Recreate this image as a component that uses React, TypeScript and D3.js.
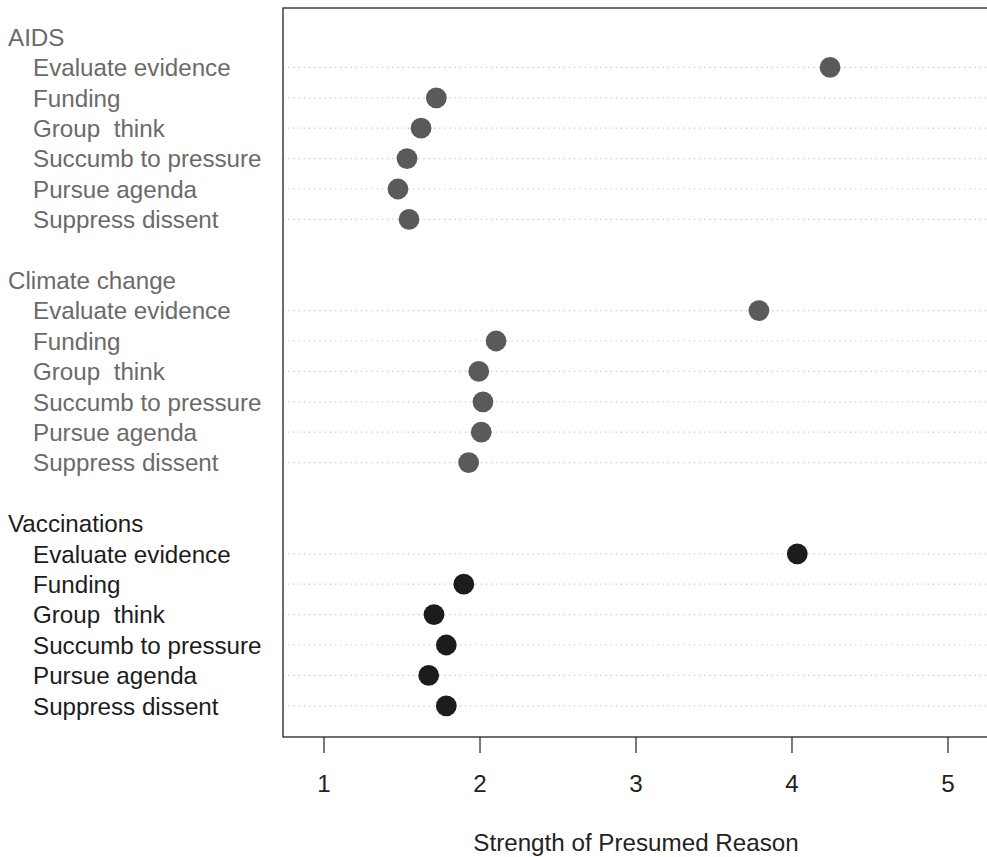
import React from "react";
import * as d3 from "d3";

const groups = ["AIDS", "Climate change", "Vaccinations"];
const reasons = ["Evaluate evidence", "Funding", "Group  think", "Succumb to pressure", "Pursue agenda", "Suppress dissent"];
const aidsValues = [4.244, 1.72, 1.622, 1.532, 1.474, 1.545];
const climateValues = [3.788, 2.103, 1.992, 2.019, 2.008, 1.927];
const vaccinationValues = [4.034, 1.896, 1.705, 1.784, 1.671, 1.784];
const xTicks = [1, 2, 3, 4, 5];
const groupColors = ["#5a5a5a", "#5a5a5a", "#1c1c1c"];
const labelColors = ["#6a6a6a", "#6a6a6a", "#1c1c1c"];

export default function App() {
  const W = 987, H = 857;
  const x = d3.scaleLinear().domain([0.737, 5.263]).range([283, 989]);
  const y = d3.scaleLinear().domain([0, 22]).range([37, 705.8]);
  const allValues = [aidsValues, climateValues, vaccinationValues];
  const font = "'Liberation Sans', Arial, Helvetica, sans-serif";
  const boxTop = 8, boxBottom = 737;
  const fs = 24.2;

  const rows: { label: string; header: boolean; g: number; idx: number; v?: number }[] = [];
  groups.forEach((g, gi) => {
    const base = gi * 8;
    rows.push({ label: g, header: true, g: gi, idx: base });
    reasons.forEach((r, ri) => {
      rows.push({ label: r, header: false, g: gi, idx: base + 1 + ri, v: allValues[gi][ri] });
    });
  });

  return (
    <svg width={W} height={H} style={{ position: "absolute", left: 0, top: 0, background: "#fff" }} fontFamily={font}>
      <rect x={0} y={0} width={W} height={H} fill="#fff" />
      {rows.filter(r => !r.header).map((r, i) => (
        <line key={"l" + i} x1={x.range()[0]} x2={x.range()[1]} y1={y(r.idx)} y2={y(r.idx)}
          stroke="#c4c4c4" strokeWidth={1.2} strokeDasharray="1.2 4" />
      ))}
      {rows.filter(r => !r.header).map((r, i) => (
        <circle key={"c" + i} cx={x(r.v!)} cy={y(r.idx)} r={10.4} fill={groupColors[r.g]} />
      ))}
      {rows.map((r, i) => (
        <text key={"t" + i} x={r.header ? 8 : 33} y={y(r.idx)} dy="0.36em" fontSize={fs}
          fill={labelColors[r.g]} style={{ whiteSpace: "pre" }}>{r.label}</text>
      ))}
      <rect x={283} y={boxTop} width={989 - 283} height={boxBottom - boxTop} fill="none" stroke="#222" strokeWidth={1.3} />
      {xTicks.map(t => (
        <g key={"x" + t}>
          <line x1={x(t)} x2={x(t)} y1={boxBottom} y2={boxBottom + 16} stroke="#222" strokeWidth={1.2} />
          <text x={x(t)} y={783} dy="0.36em" textAnchor="middle" fontSize={fs} fill="#222">{t}</text>
        </g>
      ))}
      <text x={(283 + 989) / 2} y={842} dy="0.36em" textAnchor="middle" fontSize={fs} fill="#222">Strength of Presumed Reason</text>
    </svg>
  );
}
